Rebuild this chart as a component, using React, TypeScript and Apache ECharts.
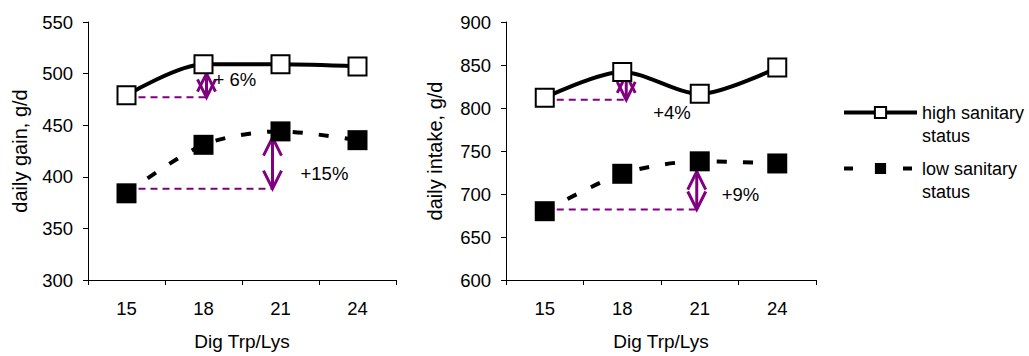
import React, { useEffect, useRef } from "react";
import * as echarts from "echarts";

const categories = ["15", "18", "21", "24"];
const gainHigh = [479, 509, 509, 507];
const gainLow = [384, 431, 444, 435.5];
const intakeHigh = [812, 842, 816.5, 847];
const intakeLow = [680, 723.5, 738, 735.5];

const highName = "high sanitary status";
const lowName = "low sanitary status";

// differences: dashed reference from category `from` at `base`, arrow at category `at` up to `tip`
const gainDiffs = [
  { from: 0, at: 1, base: 477, tip: 500, label: "+ 6%", labelAt: 494 },
  { from: 0, at: 2, base: 388.5, tip: 438, label: "+15%", labelAt: 403 },
];
const intakeDiffs = [
  { from: 0, at: 1, base: 809.5, tip: 838.5, label: "+4%", labelAt: 795 },
  { from: 0, at: 2, base: 682, tip: 726, label: "+9%", labelAt: 700 },
];
// pixel nudges (styling)
const gainNudge = [
  { arrowDx: 3, labelDx: 10 },
  { arrowDx: -8, labelDx: 20 },
];
const intakeNudge = [
  { arrowDx: 4, labelDx: 31 },
  { arrowDx: -3, labelDx: 22 },
];

const FONT = '"Liberation Sans", Arial, sans-serif';
const PURPLE = "#800080";

function makeRender(diffs: any[], nudges: any[]) {
  return (params: any, api: any) => {
    const i = params.dataIndex;
    const d = diffs[i];
    const n = nudges[i];
    const p0 = api.coord([d.from, d.base]);
    const p1 = api.coord([d.at, d.base]);
    const pt = api.coord([d.at, d.tip]);
    const pl = api.coord([d.at, d.labelAt]);
    const ax = p1[0] + n.arrowDx;
    const hl = 18;
    const hw = 9;
    return {
      type: "group",
      children: [
        {
          type: "line",
          shape: { x1: p0[0], y1: p0[1], x2: ax, y2: p1[1] },
          style: { stroke: PURPLE, lineWidth: 2, lineDash: [7, 5] },
        },
        {
          type: "line",
          shape: { x1: ax, y1: p1[1], x2: ax, y2: pt[1] },
          style: { stroke: PURPLE, lineWidth: 3 },
        },
        {
          type: "polyline",
          shape: { points: [[ax - hw, p1[1] - hl], [ax, p1[1]], [ax + hw, p1[1] - hl]] },
          style: { stroke: PURPLE, lineWidth: 3, fill: "none" },
        },
        {
          type: "polyline",
          shape: { points: [[ax - hw, pt[1] + hl], [ax, pt[1]], [ax + hw, pt[1] + hl]] },
          style: { stroke: PURPLE, lineWidth: 3, fill: "none" },
        },
        {
          type: "text",
          x: pl[0] + n.labelDx,
          y: pl[1],
          style: {
            text: d.label,
            fill: "#000",
            fontSize: 18.5,
            fontFamily: FONT,
            align: "left",
            verticalAlign: "middle",
          },
        },
      ],
    };
  };
}

function xAxis(gridIndex: number) {
  return {
    type: "category",
    gridIndex,
    data: categories,
    axisLine: { lineStyle: { color: "#000", width: 1 } },
    axisTick: { show: true, length: 5, lineStyle: { color: "#000" } },
    axisLabel: { color: "#000", fontSize: 18.5, fontFamily: FONT, margin: 19 },
    name: "Dig Trp/Lys",
    nameLocation: "middle",
    nameGap: 52,
    nameTextStyle: { color: "#000", fontSize: 19, fontFamily: FONT },
    splitLine: { show: false },
  };
}

function yAxis(gridIndex: number, min: number, max: number, name: string, gap: number) {
  return {
    type: "value",
    gridIndex,
    min,
    max,
    interval: 50,
    axisLine: { show: true, lineStyle: { color: "#000", width: 1 } },
    axisTick: { show: true, length: 5, lineStyle: { color: "#000" } },
    axisLabel: { color: "#000", fontSize: 18.5, fontFamily: FONT, margin: 15 },
    splitLine: { show: false },
    name,
    nameLocation: "middle",
    nameGap: gap,
    nameTextStyle: { color: "#000", fontSize: 20, fontFamily: FONT },
  };
}

function highSeries(idx: number, data: number[]) {
  return {
    type: "line",
    name: highName,
    xAxisIndex: idx,
    yAxisIndex: idx,
    data,
    smooth: 0.3,
    symbol: "rect",
    symbolSize: 18,
    z: 3,
    lineStyle: { color: "#000", width: 4 },
    itemStyle: { color: "#fff", borderColor: "#000", borderWidth: 2 },
  };
}

function lowSeries(idx: number, data: number[]) {
  return {
    type: "line",
    name: lowName,
    xAxisIndex: idx,
    yAxisIndex: idx,
    data,
    smooth: 0.3,
    symbol: "rect",
    symbolSize: 20,
    z: 3,
    lineStyle: { color: "#000", width: 4, type: [10, 16] },
    itemStyle: { color: "#000", borderColor: "#000", borderWidth: 0 },
  };
}

function legend(name: string, top: number, lineStyle: any) {
  return {
    data: [name],
    left: 842,
    top,
    padding: 0,
    itemWidth: 73,
    itemHeight: 14,
    lineStyle,
    // leading blank line keeps the first text line level with the icon
    formatter: (n: string) => "\n" + n.replace(" status", "\nstatus"),
    textStyle: {
      color: "#000",
      fontSize: 18,
      fontFamily: FONT,
      lineHeight: 23,
    },
  };
}

export default function App() {
  const ref = useRef<HTMLDivElement>(null);
  useEffect(() => {
    if (!ref.current) return;
    const chart = echarts.init(ref.current, undefined, { renderer: "svg" });
    chart.setOption({
      animation: false,
      backgroundColor: "#fff",
      textStyle: { fontFamily: FONT },
      legend: [
        legend(highName, 78, { type: "solid", width: 4, color: "#000" }),
        legend(lowName, 134, { type: [9, 50], width: 4, color: "#000" }),
      ],
      grid: [
        { left: 88, top: 22, width: 308, height: 262 },
        { left: 506, top: 22, width: 310, height: 262 },
      ],
      xAxis: [xAxis(0), xAxis(1)],
      yAxis: [
        yAxis(0, 300, 550, "daily gain, g/d", 58),
        yAxis(1, 600, 900, "daily intake, g/d", 61),
      ],
      series: [
        {
          type: "custom",
          xAxisIndex: 0,
          yAxisIndex: 0,
          z: 1,
          clip: false,
          silent: true,
          data: gainDiffs.map((d) => [d.at, d.base]),
          renderItem: makeRender(gainDiffs, gainNudge),
        },
        {
          type: "custom",
          xAxisIndex: 1,
          yAxisIndex: 1,
          z: 1,
          clip: false,
          silent: true,
          data: intakeDiffs.map((d) => [d.at, d.base]),
          renderItem: makeRender(intakeDiffs, intakeNudge),
        },
        highSeries(0, gainHigh),
        lowSeries(0, gainLow),
        highSeries(1, intakeHigh),
        lowSeries(1, intakeLow),
      ],
    });
    return () => chart.dispose();
  }, []);
  return (
    <div
      ref={ref}
      style={{ position: "absolute", left: 0, top: 0, width: 1029, height: 356 }}
    />
  );
}
